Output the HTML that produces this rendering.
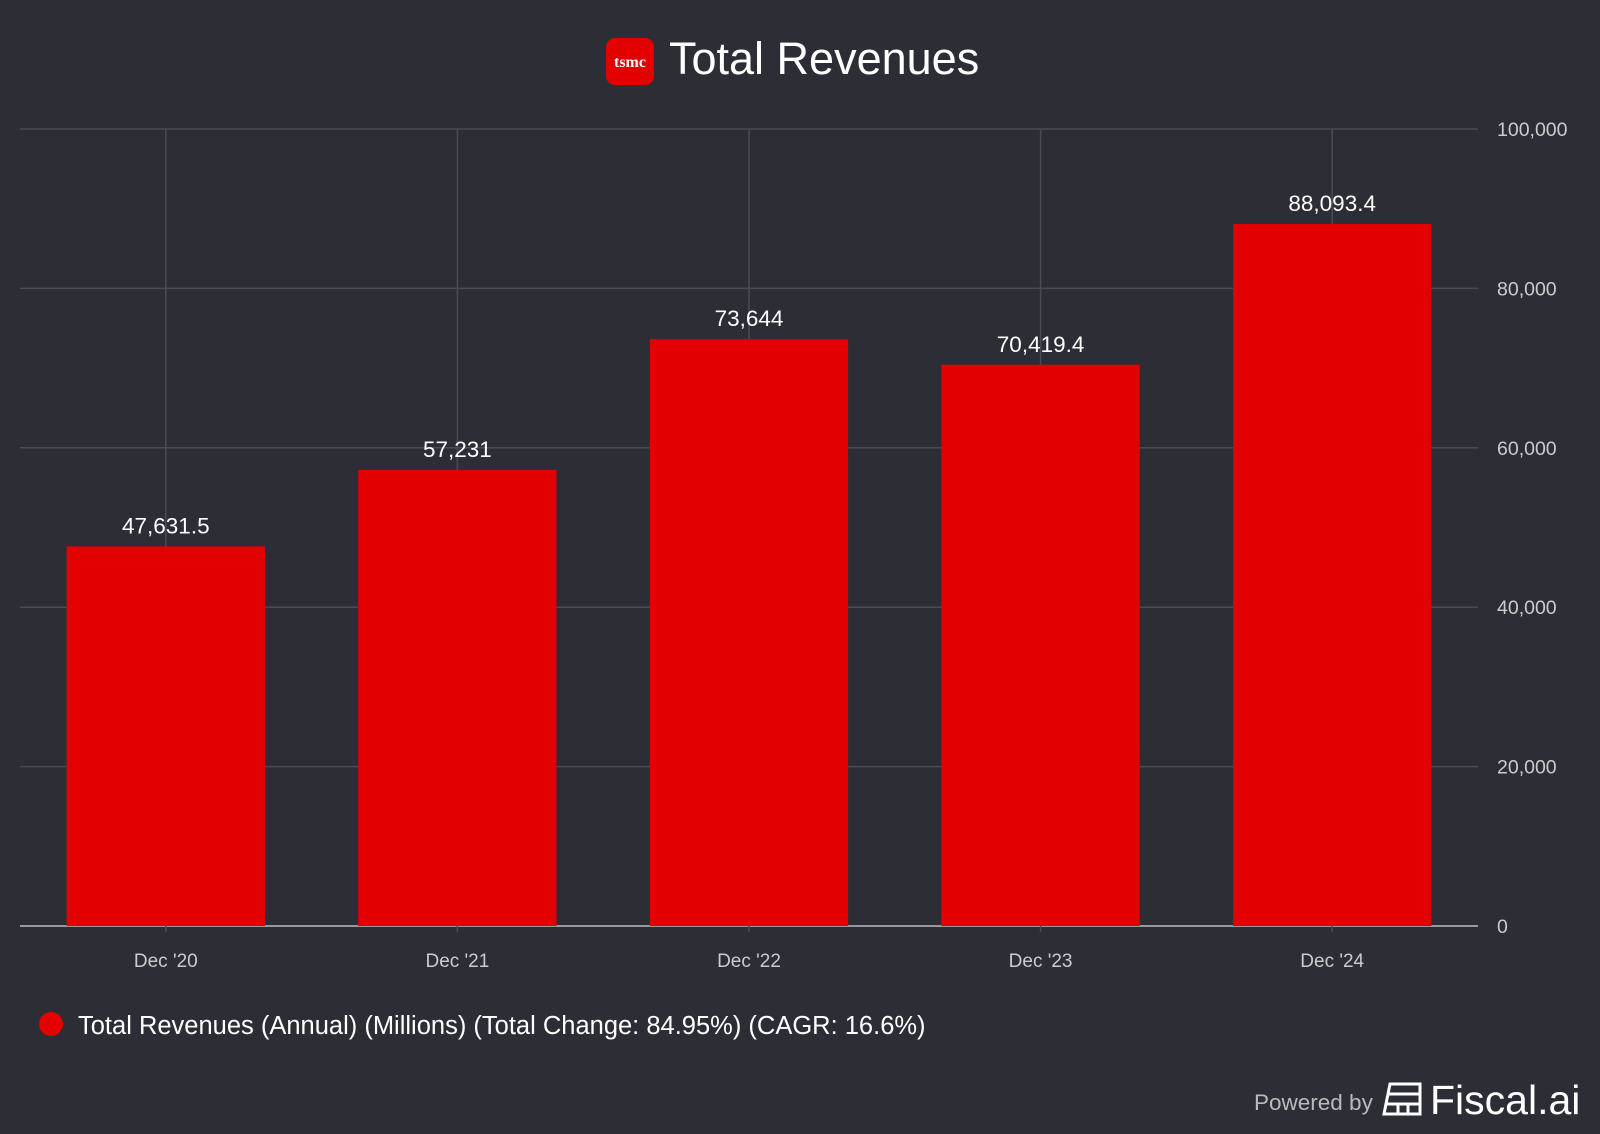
<!DOCTYPE html>
<html><head><meta charset="utf-8"><style>
body{margin:0;background:#2c2d35;width:1600px;height:1134px;overflow:hidden;font-family:"Liberation Sans",sans-serif;}
svg{display:block}
</style></head><body>
<svg id="chart" width="1600" height="1134">
<rect x="606" y="38" width="48" height="47" rx="9" fill="#e30000"/>
<text x="630" y="67" text-anchor="middle" font-family="Liberation Serif,serif" font-weight="bold" font-size="16" fill="#fff">tsmc</text>
<text x="669" y="74" font-size="45" fill="#fff">Total Revenues</text>
<g id="grid"></g><g id="bars"></g>
<circle cx="51" cy="1024" r="12" fill="#e30000"/>
<text x="78" y="1034" font-size="25.5" fill="#fff">Total Revenues (Annual) (Millions) (Total Change: 84.95%) (CAGR: 16.6%)</text>
<text x="1254" y="1110" font-size="22.5" fill="#bbb">Powered by</text>
<g fill="none" stroke="#fff" stroke-width="3">
<path d="M1390 1084 h30 v30 h-36 z"/><path d="M1388 1094 h32 M1386 1104 h34 M1398 1104 v10 M1408 1104 v10"/></g>
<text x="1430" y="1114" font-size="41" fill="#fff">Fiscal.ai</text>
</svg>
<script>
const categories=["Dec '20","Dec '21","Dec '22","Dec '23","Dec '24"];
const values=[47631.5,57231,73644,70419.4,88093.4];
const valueLabels=["47,631.5","57,231","73,644","70,419.4","88,093.4"];
const yTicks=[0,20000,40000,60000,80000,100000];
const yTickLabels=["0","20,000","40,000","60,000","80,000","100,000"];
const NS="http://www.w3.org/2000/svg";
const L=20,R=1478,T=129,B=926,yMax=100000;
const band=(R-L)/categories.length,bw=band*0.68;
const y=v=>B-(v/yMax)*(B-T);
const x=i=>L+band*(i+0.5);
function mk(t,a,p){const e=document.createElementNS(NS,t);for(const k in a)e.setAttribute(k,a[k]);p.appendChild(e);return e;}
const g=document.getElementById('grid'),bg=document.getElementById('bars');
yTicks.forEach((t,i)=>{
 const l=mk('line',{x1:L,x2:R,y1:y(t),y2:y(t),stroke:t===0?'#bbb':'#4a4b54','stroke-width':1.5},g);
 
 
 const tx=mk('text',{x:1497,y:y(t)+7,'font-size':19.5,fill:'#ccc'},g);tx.textContent=yTickLabels[i];
 
 
});
categories.forEach((c,i)=>{
 const l=mk('line',{x1:x(i),x2:x(i),y1:T,y2:B+6,stroke:'#4a4b54','stroke-width':1.5},g);
 
 
 const tx=mk('text',{x:x(i),y:967,'text-anchor':'middle','font-size':19,fill:'#ccc'},g);tx.textContent=c;
 
 
 const r=mk('rect',{x:x(i)-bw/2,y:y(values[i]),width:bw,height:B-y(values[i]),fill:'#e30000'},bg);
 
 
 const vl=mk('text',{x:x(i),y:y(values[i])-13,'text-anchor':'middle','font-size':22.5,fill:'#fff'},bg);vl.textContent=valueLabels[i];
 
 
});
</script>
</body></html>
